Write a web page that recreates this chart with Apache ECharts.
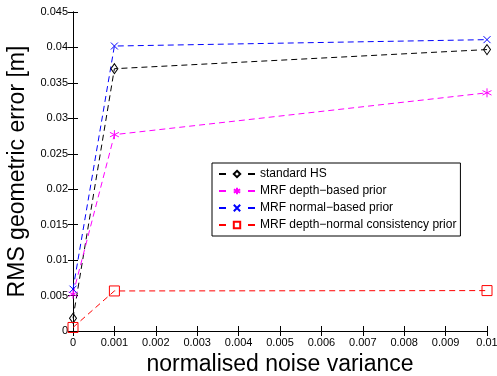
<!DOCTYPE html>
<html>
<head>
<meta charset="utf-8">
<script src="https://cdn.jsdelivr.net/npm/echarts@6/dist/echarts.min.js"></script>
<style>
  html, body { margin: 0; padding: 0; background: #fff; }
  #chart { width: 497px; height: 376px; }
</style>
</head>
<body>
<div id="chart"></div>
<script>
// noise variance (x) and RMS error per method
const noiseVar = [0, 0.001, 0.01];
const standardHS = [0.0018, 0.0370, 0.0397];
const mrfDepth = [0.0052, 0.0277, 0.0336];
const mrfNormal = [0.0059, 0.0402, 0.0411];
const mrfConsist = [0.0005, 0.00565, 0.0057];
const seriesNames = [
    'standard HS',
    'MRF depth\u2212based prior',
    'MRF normal\u2212based prior',
    'MRF depth\u2212normal consistency prior'
];

const font = 'Liberation Sans, Arial, Helvetica, sans-serif';
const asterisk = 'path://M0,-5L0,5M-4.33,-2.5L4.33,2.5M-4.33,2.5L4.33,-2.5';
const cross = 'path://M-4,-4L4,4M-4,4L4,-4';

const pairs = (ys) => noiseVar.map((x, i) => [x, ys[i]]);

const mkSeries = (name, ys, color, symbol, size) => ({
    name: name,
    type: 'line',
    data: pairs(ys),
    symbol: symbol,
    symbolSize: size,
    showAllSymbol: true,
    clip: false,
    lineStyle: { color: color, width: 1, type: [6, 4] },
    itemStyle: { color: 'rgba(0,0,0,0)', borderColor: color, borderWidth: 1 },
    emphasis: { disabled: true },
    z: 3
});

const tickFmt = v => v === 0 ? '0' : (+v.toFixed(3)).toString();

const chart = echarts.init(document.getElementById('chart'));
chart.setOption({
    animation: false,
    textStyle: { fontFamily: font },
    grid: { left: 73, right: 10, top: 12, bottom: 45, outerBoundsMode: 'none', containLabel: false },
    legend: {
        orient: 'vertical',
        left: 212,
        top: 163,
        itemWidth: 36,
        itemHeight: 8,
        itemGap: 5,
        padding: [5, 4, 5, 6],
        backgroundColor: '#fff',
        borderColor: '#000',
        borderWidth: 1,
        lineStyle: { type: [7, 22] },
        textStyle: { fontFamily: font, fontSize: 12, color: '#000' },
        data: seriesNames
    },
    xAxis: [{
        type: 'value',
        min: 0, max: 0.01, interval: 0.001,
        name: 'normalised noise variance',
        nameLocation: 'middle',
        nameGap: 21,
        nameTextStyle: { fontSize: 23, color: '#000' },
        axisLine: { show: true, lineStyle: { color: '#000' } },
        axisTick: { inside: true, length: 5, lineStyle: { color: '#000' } },
        axisLabel: { fontSize: 11, color: '#000', margin: 6, formatter: tickFmt },
        splitLine: { show: false }
    }, {
        type: 'value', position: 'top',
        min: 0, max: 0.01, interval: 0.001,
        axisLine: { show: true, lineStyle: { color: '#000' } },
        axisTick: { inside: true, length: 5, lineStyle: { color: '#000' } },
        axisLabel: { show: false },
        splitLine: { show: false }
    }],
    yAxis: [{
        type: 'value',
        min: 0, max: 0.045, interval: 0.005,
        name: 'RMS geometric error [m]',
        nameLocation: 'middle',
        nameGap: 37,
        nameTextStyle: { fontSize: 23, color: '#000' },
        axisLine: { show: true, lineStyle: { color: '#000' } },
        axisTick: { inside: true, length: 5, lineStyle: { color: '#000' } },
        axisLabel: { fontSize: 11, color: '#000', margin: 5, formatter: tickFmt },
        splitLine: { show: false }
    }, {
        type: 'value', position: 'right',
        min: 0, max: 0.045, interval: 0.005,
        axisLine: { show: true, lineStyle: { color: '#000' } },
        axisTick: { inside: true, length: 5, lineStyle: { color: '#000' } },
        axisLabel: { show: false },
        splitLine: { show: false }
    }],
    series: [
        mkSeries(seriesNames[0], standardHS, '#000000', 'diamond', [7, 10]),
        mkSeries(seriesNames[1], mrfDepth, '#ff00ff', asterisk, 9),
        mkSeries(seriesNames[2], mrfNormal, '#0000ff', cross, 7),
        mkSeries(seriesNames[3], mrfConsist, '#ff0000', 'rect', 10)
    ]
});
</script>
</body>
</html>
